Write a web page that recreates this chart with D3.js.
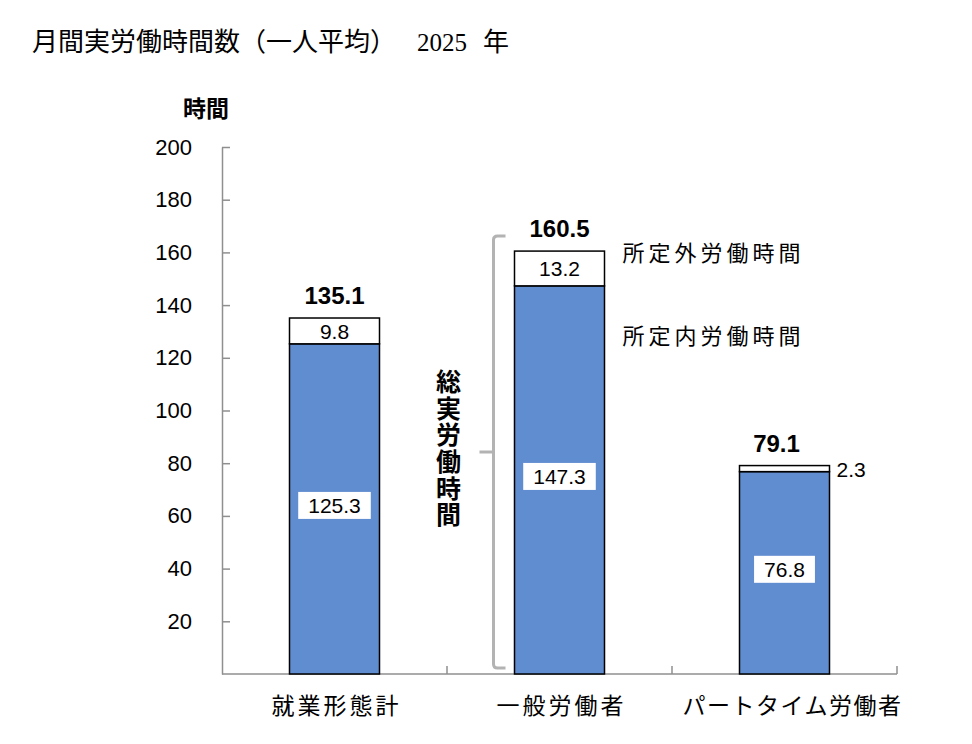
<!DOCTYPE html>
<html><head><meta charset="utf-8">
<script src="https://cdn.jsdelivr.net/npm/d3@7"></script>
<style>
html,body{margin:0;padding:0;background:#fff;}
svg{display:block;}
text{font-family:"Liberation Sans","Noto Sans CJK JP",sans-serif;fill:#000;}
</style></head>
<body>
<script>
const categories = ["就業形態計", "一般労働者", "パートタイム労働者"];
const scheduledHours = [125.3, 147.3, 76.8];   // 所定内労働時間
const overtimeHours = [9.8, 13.2, 2.3];        // 所定外労働時間
const totalHours = [135.1, 160.5, 79.1];       // 総実労働時間
const yTickValues = [20, 40, 60, 80, 100, 120, 140, 160, 180, 200];
const titleMain = "月間実労働時間数（一人平均）";
const titleYear = "2025";
const titleUnit = "年";
const yAxisTitle = "時間";
const bracketLabel = "総実労働時間";
const legendOver = "所定外労働時間";
const legendSched = "所定内労働時間";

const W = 972, H = 744;
const svg = d3.select("body").append("svg").attr("width", W).attr("height", H);

const y = d3.scaleLinear().domain([0, 200]).range([674, 147]);
const x = d3.scaleBand().domain(categories).range([222, 897]).paddingInner(0).paddingOuter(0);
const barW = x.bandwidth() * 0.4;
const bx = c => x(c) + (x.bandwidth() - barW) / 2;
const cx = c => x(c) + x.bandwidth() / 2;

const axisColor = "#8f8f8f";
const blue = "#608cd0";

// title
const tt = svg.append("text").attr("x", 32).attr("y", 51)
  .style("font-family", "'Liberation Serif','Noto Sans CJK JP',serif")
  .style("font-size", "26px");
tt.append("tspan").text(titleMain);
tt.append("tspan").attr("x", 417).style("font-size", "25px").text(titleYear);
tt.append("tspan").attr("x", 483).text(titleUnit);

// y axis
const yAxis = d3.axisLeft(y).tickValues(yTickValues).tickSizeInner(-8).tickSizeOuter(0).tickPadding(30);
const gy = svg.append("g").attr("transform", "translate(222,0)").call(yAxis);
gy.select(".domain").attr("stroke", axisColor).attr("stroke-width", 1.5);
gy.selectAll(".tick line").attr("stroke", axisColor).attr("stroke-width", 1.5);
gy.selectAll(".tick text").style("font-size", "22px").style("font-family", "'Liberation Sans',sans-serif").attr("fill", "#000");

svg.append("text").attr("x", 206).attr("y", 117).attr("text-anchor", "middle")
  .style("font-size", "23px").style("font-weight", "bold").text(yAxisTitle);

// x axis
const gx = svg.append("g");
gx.append("line").attr("x1", x.range()[0]).attr("x2", x.range()[1])
  .attr("y1", y(0)).attr("y2", y(0)).attr("stroke", axisColor).attr("stroke-width", 1.5);
gx.selectAll("line.xt").data(categories).join("line").attr("class", "xt")
  .attr("x1", c => x(c) + x.bandwidth()).attr("x2", c => x(c) + x.bandwidth())
  .attr("y1", y(0)).attr("y2", y(0) - 8).attr("stroke", axisColor).attr("stroke-width", 1.5);
gx.selectAll("text.cat").data(categories).join("text").attr("class", "cat")
  .attr("x", (c, i) => cx(c) + (i === 2 ? 8 : 2)).attr("y", 714).attr("text-anchor", "middle")
  .style("font-size", "23px").style("letter-spacing", (c, i) => i === 2 ? "1.5px" : "3px").text(c => c);

// bars
const data = categories.map((c, i) => ({c, s: scheduledHours[i], o: overtimeHours[i], t: totalHours[i]}));
svg.selectAll("rect.sched").data(data).join("rect").attr("class", "sched")
  .attr("x", d => bx(d.c)).attr("width", barW)
  .attr("y", d => y(d.s)).attr("height", d => y(0) - y(d.s))
  .attr("fill", blue).attr("stroke", "#000").attr("stroke-width", 1.5);
svg.selectAll("rect.over").data(data).join("rect").attr("class", "over")
  .attr("x", d => bx(d.c)).attr("width", barW)
  .attr("y", d => y(d.s + d.o)).attr("height", d => y(d.s) - y(d.s + d.o))
  .attr("fill", "#fff").attr("stroke", "#000").attr("stroke-width", 1.5);

// scheduled labels in white boxes
const sl = svg.selectAll("g.sl").data(data).join("g").attr("class", "sl");
sl.append("text").attr("x", d => cx(d.c)).attr("y", d => y(d.s / 2) + 4)
  .attr("text-anchor", "middle").style("font-size", "21px").text(d => d.s.toFixed(1));
sl.each(function() {
  const g = d3.select(this);
  const bb = g.select("text").node().getBBox();
  g.insert("rect", "text").attr("x", bb.x - 10).attr("y", bb.y - 2)
    .attr("width", bb.width + 20).attr("height", bb.height + 4).attr("fill", "#fff");
});

// overtime labels
svg.selectAll("text.ol").data(data).join("text").attr("class", "ol")
  .attr("x", d => d.o < 5 ? bx(d.c) + barW + 7 : cx(d.c))
  .attr("y", d => y(d.s + d.o / 2) + 8)
  .attr("text-anchor", d => d.o < 5 ? "start" : "middle")
  .style("font-size", "21px").text(d => d.o.toFixed(1));

// totals
svg.selectAll("text.tl").data(data).join("text").attr("class", "tl")
  .attr("x", d => cx(d.c) - (d.o < 5 ? 8 : 0)).attr("y", d => y(d.t) - 14)
  .attr("text-anchor", "middle").style("font-size", "24px").style("font-weight", "bold")
  .text(d => d.t.toFixed(1));

// bracket for 一般労働者
const c1 = categories[1];
const bxl = bx(c1) - 21;
const bTop = y(totalHours[1]) - 15, bBot = y(0) - 6, bMid = (bTop + bBot) / 2;
svg.append("path")
  .attr("d", `M${bxl + 12},${bTop} H${bxl + 4} Q${bxl},${bTop} ${bxl},${bTop + 4} V${bBot - 4} Q${bxl},${bBot} ${bxl + 4},${bBot} H${bxl + 12} M${bxl},${bMid} H${bxl - 14}`)
  .attr("fill", "none").attr("stroke", "#b3b3b3").attr("stroke-width", 3);

const vt = svg.append("text").attr("text-anchor", "middle")
  .style("font-size", "25px").style("font-weight", "bold");
Array.from(bracketLabel).forEach((ch, i, arr) => {
  vt.append("tspan").attr("x", bxl - 45)
    .attr("y", bMid - 4 - (arr.length / 2) * 26.7 + i * 26.7 + 23).text(ch);
});

// legend-like annotations
svg.append("text").attr("x", bx(c1) + barW + 18).attr("y", y(totalHours[1]) + 10)
  .style("font-size", "22px").style("letter-spacing", "4px").text(legendOver);
svg.append("text").attr("x", bx(c1) + barW + 18).attr("y", y(scheduledHours[1]) + 58)
  .style("font-size", "22px").style("letter-spacing", "4px").text(legendSched);
</script>
</body></html>
